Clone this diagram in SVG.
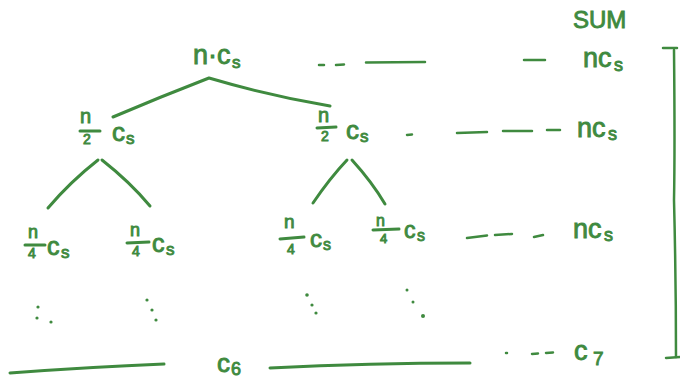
<svg xmlns="http://www.w3.org/2000/svg" width="680" height="380" viewBox="0 0 680 380">
<style>
.t{font-family:"Liberation Sans","DejaVu Sans",sans-serif;fill:#3f8a3f;stroke:#3f8a3f;stroke-width:0.9;}
.ln{fill:none;stroke:#3f8a3f;stroke-width:3;stroke-linecap:round;stroke-linejoin:round;}
.th{fill:none;stroke:#3f8a3f;stroke-width:2.5;stroke-linecap:round;}
.dot{fill:#3f8a3f;}
</style>
<rect width="680" height="380" fill="#ffffff"/>
<g id="connectors">
<path class="ln" d="M113,117 Q160,97 209,78 Q270,96 330,106"/>
<path class="ln" d="M48,208 Q70,182 98,160"/>
<path class="ln" d="M102,160 Q130,182 150,206"/>
<path class="ln" d="M313,203 Q330,178 347,160"/>
<path class="ln" d="M352,160 Q372,182 385,204"/>
</g>
<g id="root">
<text class="t" x="193" y="64" font-size="27">n·c</text>
<text class="t" x="232" y="68" font-size="17">s</text>
</g>
<g id="left2">
<text class="t" x="80" y="123" font-size="20">n</text>
<path class="ln" d="M80,131 L100,131"/>
<text class="t" x="83" y="144" font-size="14">2</text>
<text class="t" x="112" y="141" font-size="26">c</text>
<text class="t" x="126" y="144" font-size="17">s</text>
</g>
<g id="right2">
<text class="t" x="318" y="122" font-size="20">n</text>
<path class="ln" d="M317,128 L336,127"/>
<text class="t" x="321" y="141" font-size="14">2</text>
<text class="t" x="346" y="139" font-size="26">c</text>
<text class="t" x="360" y="142" font-size="17">s</text>
</g>
<g id="n4a">
<text class="t" x="28" y="238" font-size="18">n</text>
<path class="ln" d="M25,245 L45,245"/>
<text class="t" x="28" y="258" font-size="14">4</text>
<text class="t" x="47" y="255" font-size="25">c</text>
<text class="t" x="61" y="258" font-size="17">s</text>
</g>
<g id="n4b">
<text class="t" x="130" y="236" font-size="18">n</text>
<path class="ln" d="M127,243 L149,242"/>
<text class="t" x="132" y="256" font-size="14">4</text>
<text class="t" x="152" y="252" font-size="25">c</text>
<text class="t" x="166" y="255" font-size="17">s</text>
</g>
<g id="n4c">
<text class="t" x="284" y="228" font-size="19">n</text>
<path class="ln" d="M280,239 L304,237"/>
<text class="t" x="287" y="254" font-size="14">4</text>
<text class="t" x="310" y="247" font-size="24">c</text>
<text class="t" x="323" y="250" font-size="16">s</text>
</g>
<g id="n4d">
<text class="t" x="376" y="226" font-size="16">n</text>
<path class="ln" d="M373,230 L399,229"/>
<text class="t" x="380" y="243" font-size="13">4</text>
<text class="t" x="404" y="238" font-size="23">c</text>
<text class="t" x="417" y="241" font-size="16">s</text>
</g>
<g id="dots">
<circle class="dot" cx="38" cy="307" r="1.6"/>
<circle class="dot" cx="37" cy="318" r="1.6"/>
<circle class="dot" cx="51" cy="322" r="1.6"/>
<circle class="dot" cx="147" cy="300" r="1.6"/>
<circle class="dot" cx="152" cy="310" r="1.6"/>
<circle class="dot" cx="156" cy="320" r="1.6"/>
<circle class="dot" cx="307" cy="295" r="1.8"/>
<circle class="dot" cx="312" cy="305" r="1.6"/>
<circle class="dot" cx="316" cy="313" r="1.6"/>
<circle class="dot" cx="407" cy="290" r="1.5"/>
<circle class="dot" cx="413" cy="302" r="1.5"/>
<circle class="dot" cx="423" cy="316" r="2"/>
</g>
<g id="dashes">
<path class="th" d="M319,65 L324,65 M336,65 L344,64.5 M366,62.5 L425,62 M524,60 L545,60"/>
<path class="th" d="M407,135 L412,134.5 M457,133 L487,132 M503,131 L532,131 M547,130 L560,130"/>
<path class="th" d="M467,238 L487,235.5 M495,235 L512,234 M534,237 L543,235"/>
<path class="th" d="M506,353 L507,353 M532,354 L538,353.5 M546,353 L553,352.5"/>
</g>
<g id="bottom">
<path class="ln" d="M10,373 Q90,367 164,364"/>
<path class="ln" d="M270,368 Q370,363 470,363"/>
<text class="t" x="217" y="372" font-size="26">c</text>
<text class="t" x="231" y="375" font-size="18">6</text>
</g>
<g id="sum">
<text class="t" x="573" y="28" font-size="24">SUM</text>
<text class="t" x="583" y="67" font-size="27">nc</text>
<text class="t" x="614" y="71" font-size="18">s</text>
<text class="t" x="577" y="137" font-size="27">nc</text>
<text class="t" x="608" y="140" font-size="18">s</text>
<text class="t" x="573" y="238" font-size="27">nc</text>
<text class="t" x="604" y="241" font-size="18">s</text>
<text class="t" x="574" y="360" font-size="27">c</text>
<text class="t" x="593" y="365" font-size="19">7</text>
</g>
<g id="bracket">
<path class="th" d="M663,48 L677,48"/>
<path class="th" d="M674,50 Q675,150 674,200 Q676,280 676,357"/>
<path class="th" d="M666,358 L680,357"/>
</g>
</svg>
